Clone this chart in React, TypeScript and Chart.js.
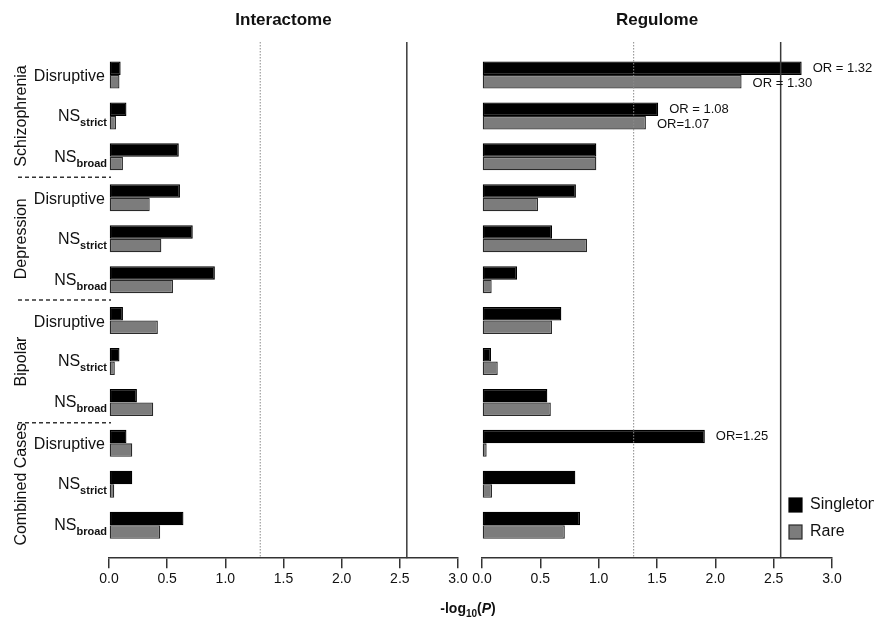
import React, { useEffect, useRef } from "react";
import { Chart, registerables } from "chart.js";
Chart.register(...registerables);

// ---------- data ----------
const groups = ["Schizophrenia", "Depression", "Bipolar", "Combined Cases"];
const rowMain = ["Disruptive", "NS", "NS", "Disruptive", "NS", "NS", "Disruptive", "NS", "NS", "Disruptive", "NS", "NS"];
const rowSub = ["", "strict", "broad", "", "strict", "broad", "", "strict", "broad", "", "strict", "broad"];
const seriesNames = ["Singleton", "Rare"];

const interactomeSingleton = [0.10, 0.15, 0.60, 0.61, 0.72, 0.91, 0.12, 0.09, 0.24, 0.15, 0.20, 0.64];
const interactomeRare = [0.09, 0.06, 0.12, 0.35, 0.45, 0.55, 0.42, 0.05, 0.38, 0.20, 0.045, 0.44];
const regulomeSingleton = [2.74, 1.51, 0.98, 0.805, 0.60, 0.30, 0.68, 0.077, 0.56, 1.91, 0.80, 0.84];
const regulomeRare = [2.225, 1.405, 0.98, 0.48, 0.90, 0.083, 0.60, 0.135, 0.59, 0.04, 0.086, 0.71];

const xMax = 3.0;
const xStep = 0.5;
const nominalThreshold = 1.3;
const bonferroniThreshold = 2.56;

const regulomeAnnotations = [
  { row: 0, series: 0, text: "OR = 1.32" },
  { row: 0, series: 1, text: "OR = 1.30" },
  { row: 1, series: 0, text: "OR = 1.08" },
  { row: 1, series: 1, text: "OR=1.07" },
  { row: 9, series: 0, text: "OR=1.25" },
];

// ---------- style ----------
const FONT = "'Liberation Sans', Arial, Helvetica, sans-serif";
const W = 874;
const H = 618;
const BLACK = "#000000";
const GRAY = "#7c7c7c";
const GRAY_BORDER = "#2a2a2a";

function thresholdPlugin() {
  return {
    id: "thresholds",
    afterDatasetsDraw(chart: any) {
      const { ctx, chartArea } = chart;
      const xs = chart.scales.x;
      ctx.save();
      let px = xs.getPixelForValue(nominalThreshold);
      ctx.strokeStyle = "#8a8a8a";
      ctx.lineWidth = 1;
      ctx.setLineDash([1.5, 1.5]);
      ctx.beginPath();
      ctx.moveTo(px, chartArea.top);
      ctx.lineTo(px, chartArea.bottom);
      ctx.stroke();
      px = xs.getPixelForValue(bonferroniThreshold);
      ctx.setLineDash([]);
      ctx.strokeStyle = "#3a3a3a";
      ctx.lineWidth = 1.5;
      ctx.beginPath();
      ctx.moveTo(px, chartArea.top);
      ctx.lineTo(px, chartArea.bottom);
      ctx.stroke();
      ctx.restore();
    },
  };
}

function titlePlugin(title: string) {
  return {
    id: "paneltitle",
    afterDraw(chart: any) {
      const { ctx, chartArea } = chart;
      ctx.save();
      ctx.fillStyle = "#111";
      ctx.font = `bold 17px ${FONT}`;
      ctx.textAlign = "center";
      ctx.textBaseline = "middle";
      ctx.fillText(title, (chartArea.left + chartArea.right) / 2, 20);
      ctx.restore();
    },
  };
}

const leftLabelsPlugin = {
  id: "leftLabels",
  afterDraw(chart: any) {
    const { ctx } = chart;
    const ys = chart.scales.y;
    ctx.save();
    ctx.fillStyle = "#111";
    rowMain.forEach((main, i) => {
      const y = ys.getPixelForValue(i);
      const sub = rowSub[i];
      if (!sub) {
        ctx.font = `16px ${FONT}`;
        ctx.textAlign = "right";
        ctx.textBaseline = "alphabetic";
        ctx.fillText(main, 105, y + 6);
      } else {
        ctx.font = `bold 11px ${FONT}`;
        const ws = ctx.measureText(sub).width;
        ctx.font = `16px ${FONT}`;
        const wm = ctx.measureText(main).width;
        const right = 107;
        ctx.textAlign = "left";
        ctx.textBaseline = "alphabetic";
        ctx.fillText(main, right - ws - wm, y + 5);
        ctx.font = `bold 11px ${FONT}`;
        ctx.fillText(sub, right - ws, y + 10);
      }
    });
    ctx.font = `16px ${FONT}`;
    ctx.textAlign = "center";
    ctx.textBaseline = "middle";
    groups.forEach((g, gi) => {
      const cy = ys.getPixelForValue(gi * 3 + 1);
      ctx.save();
      ctx.translate(22, cy);
      ctx.rotate(-Math.PI / 2);
      ctx.fillText(g, 0, 0);
      ctx.restore();
    });
    ctx.strokeStyle = "#333";
    ctx.lineWidth = 1.5;
    ctx.setLineDash([4, 3]);
    for (let gi = 1; gi < groups.length; gi++) {
      const y = ys.getPixelForValue(gi * 3 - 0.5);
      ctx.beginPath();
      ctx.moveTo(18, y);
      ctx.lineTo(111, y);
      ctx.stroke();
    }
    ctx.setLineDash([]);
    const baseY = 613;
    const parts = [
      { t: "-log", f: `bold 14px ${FONT}`, dy: 0 },
      { t: "10", f: `bold 10px ${FONT}`, dy: 4 },
      { t: "(", f: `bold 14px ${FONT}`, dy: 0 },
      { t: "P", f: `italic bold 14px ${FONT}`, dy: 0 },
      { t: ")", f: `bold 14px ${FONT}`, dy: 0 },
    ];
    let total = 0;
    parts.forEach((p) => {
      ctx.font = p.f;
      total += ctx.measureText(p.t).width;
    });
    let x = 468 - total / 2;
    ctx.textAlign = "left";
    ctx.textBaseline = "alphabetic";
    parts.forEach((p) => {
      ctx.font = p.f;
      ctx.fillText(p.t, x, baseY + p.dy);
      x += ctx.measureText(p.t).width;
    });
    ctx.restore();
  },
};

const rightExtrasPlugin = {
  id: "rightExtras",
  afterDraw(chart: any) {
    const { ctx } = chart;
    ctx.save();
    ctx.fillStyle = "#111";
    ctx.font = `13px ${FONT}`;
    ctx.textAlign = "left";
    ctx.textBaseline = "middle";
    regulomeAnnotations.forEach((a) => {
      const el = chart.getDatasetMeta(a.series).data[a.row];
      ctx.fillText(a.text, el.x + 11, el.y + (a.series === 1 ? 1.5 : 0));
    });
    const items = [
      { name: seriesNames[0], fill: BLACK, stroke: BLACK, y: 505 },
      { name: seriesNames[1], fill: GRAY, stroke: GRAY_BORDER, y: 532 },
    ];
    ctx.font = `16px ${FONT}`;
    items.forEach((it) => {
      ctx.fillStyle = it.fill;
      ctx.fillRect(789, it.y - 7, 13, 14);
      ctx.strokeStyle = it.stroke;
      ctx.lineWidth = 1.2;
      ctx.strokeRect(789, it.y - 7, 13, 14);
      ctx.fillStyle = "#111";
      ctx.fillText(it.name, 810, it.y);
    });
    ctx.restore();
  },
};

function makeConfig(singleton: number[], rare: number[], padL: number, padR: number, plugins: any[]) {
  return {
    type: "bar" as const,
    data: {
      datasets: [
        {
          label: seriesNames[0],
          data: singleton.map((v, i) => ({ x: v, y: i })),
          backgroundColor: BLACK,
          borderColor: BLACK,
          borderWidth: 1.3,
          borderSkipped: false,
          categoryPercentage: 0.66,
          barPercentage: 1.0,
        },
        {
          label: seriesNames[1],
          data: rare.map((v, i) => ({ x: v, y: i })),
          backgroundColor: GRAY,
          borderColor: GRAY_BORDER,
          borderWidth: 1.3,
          borderSkipped: false,
          categoryPercentage: 0.66,
          barPercentage: 1.0,
        },
      ],
    },
    options: {
      indexAxis: "y" as const,
      responsive: false,
      animation: false as const,
      layout: { padding: { left: padL, right: padR, top: 42, bottom: 27 } },
      plugins: { legend: { display: false }, tooltip: { enabled: false } },
      scales: {
        x: {
          type: "linear" as const,
          min: 0,
          max: xMax,
          ticks: {
            stepSize: xStep,
            callback: (v: any) => Number(v).toFixed(1),
            color: "#111",
            font: { family: FONT, size: 14 },
            padding: 3,
            maxRotation: 0,
          },
          grid: { drawOnChartArea: false, drawTicks: true, tickLength: 10, color: "#333", lineWidth: 1.5 },
          border: { display: true, color: "#333", width: 1.5 },
        },
        y: {
          type: "linear" as const,
          min: -0.807,
          max: rowMain.length - 1 + 0.807,
          reverse: true,
          offset: false,
          grid: { offset: false },
          display: false,
          afterBuildTicks: (scale: any) => {
            scale.ticks = rowMain.map((_, i) => ({ value: i }));
          },
        },
      },
    },
    plugins,
  };
}

export default function App() {
  const leftRef = useRef<HTMLCanvasElement>(null);
  const rightRef = useRef<HTMLCanvasElement>(null);
  useEffect(() => {
    const left = new Chart(
      leftRef.current as HTMLCanvasElement,
      makeConfig(interactomeSingleton, interactomeRare, 109, W - 458, [
        thresholdPlugin(),
        titlePlugin("Interactome"),
        leftLabelsPlugin,
      ]) as any
    );
    const right = new Chart(
      rightRef.current as HTMLCanvasElement,
      makeConfig(regulomeSingleton, regulomeRare, 482, W - 832, [
        thresholdPlugin(),
        titlePlugin("Regulome"),
        rightExtrasPlugin,
      ]) as any
    );
    return () => {
      left.destroy();
      right.destroy();
    };
  }, []);
  const cs: React.CSSProperties = { position: "absolute", left: 0, top: 0, width: W, height: H };
  return (
    <div style={{ position: "absolute", left: 0, top: 0, width: W, height: H, background: "#fff", overflow: "hidden" }}>
      <canvas ref={leftRef} width={W} height={H} style={cs} />
      <canvas ref={rightRef} width={W} height={H} style={cs} />
    </div>
  );
}
